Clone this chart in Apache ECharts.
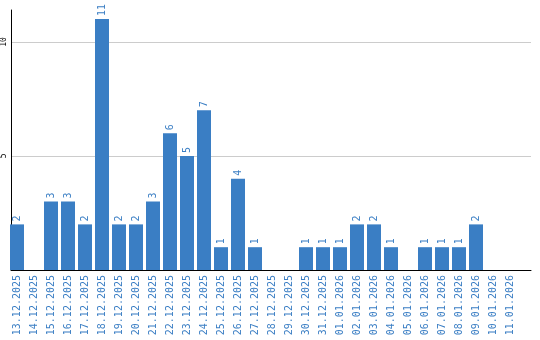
<!DOCTYPE html>
<html><head><meta charset="utf-8">
<script src="https://cdn.jsdelivr.net/npm/echarts@6/dist/echarts.min.js"></script>
<style>html,body{margin:0;padding:0;background:#fff}#c{width:540px;height:340px}</style>
</head><body><div id="c"></div>
<script>
const categories = ["13.12.2025","14.12.2025","15.12.2025","16.12.2025","17.12.2025","18.12.2025","19.12.2025","20.12.2025","21.12.2025","22.12.2025","23.12.2025","24.12.2025","25.12.2025","26.12.2025","27.12.2025","28.12.2025","29.12.2025","30.12.2025","31.12.2025","01.01.2026","02.01.2026","03.01.2026","04.01.2026","05.01.2026","06.01.2026","07.01.2026","08.01.2026","09.01.2026","10.01.2026","11.01.2026"];
const values = [2,0,3,3,2,11,2,2,3,6,5,7,1,4,1,0,0,1,1,1,2,2,1,0,1,1,1,2,0,0];
const yTicks = [5,10];

const blue = '#3a7ec4';
const chart = echarts.init(document.getElementById('c'));
chart.setOption({
  animation:false,
  grid:[
    {left:10,right:9,top:10,bottom:70,containLabel:false},
    {left:8.5,width:510,top:10,bottom:70,containLabel:false}
  ],
  xAxis:[
    {gridIndex:0,type:'value',min:0,max:1,
      axisLine:{show:true,lineStyle:{color:'#000',width:1}},
      axisTick:{show:false},axisLabel:{show:false},splitLine:{show:false}},
    {gridIndex:1,type:'category',data:categories,
      axisLine:{show:false},axisTick:{show:false},
      axisLabel:{rotate:90,interval:0,color:blue,fontFamily:'DejaVu Sans Mono',fontSize:10,margin:5}}
  ],
  yAxis:[
    {gridIndex:0,type:'value',min:0,max:11.4,interval:5,
      axisLine:{show:true,lineStyle:{color:'#000',width:1}},
      axisTick:{show:false},
      splitLine:{show:true,showMinLine:false,showMaxLine:false,lineStyle:{color:'#cccccc',width:1}},
      axisLabel:{rotate:90,color:'#000',fontFamily:'DejaVu Sans Mono',fontSize:8,margin:3,
        showMaxLabel:false,formatter:v=>yTicks.includes(v)?String(v):''}},
    {gridIndex:1,type:'value',min:0,max:11.4,show:false}
  ],
  series:[{type:'bar',xAxisIndex:1,yAxisIndex:1,
    data:values.map(v=>v===0?{value:0,label:{show:false}}:v),
    barWidth:14,
    itemStyle:{color:blue},
    label:{show:true,position:'top',rotate:90,align:'left',verticalAlign:'middle',distance:3,
      color:blue,fontFamily:'DejaVu Sans Mono',fontSize:10}}]
});
</script></body></html>
